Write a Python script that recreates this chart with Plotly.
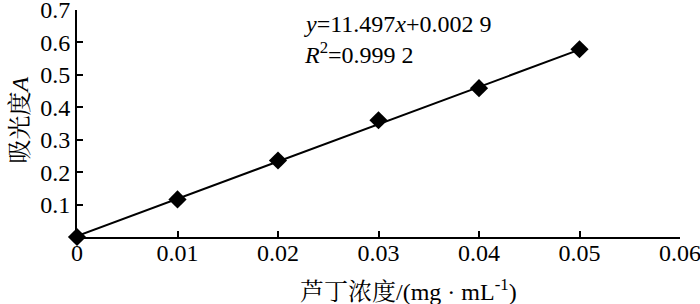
import plotly.graph_objects as go

conc = [0, 0.01, 0.02, 0.03, 0.04, 0.05]
absorb = [0.0, 0.116, 0.236, 0.360, 0.459, 0.579]
slope = 11.497
intercept = 0.0029
fit_x = [0, 0.05]
fit_y = [slope * v + intercept for v in fit_x]

x_ticks = [0, 0.01, 0.02, 0.03, 0.04, 0.05, 0.06]
x_labels = ["0", "0.01", "0.02", "0.03", "0.04", "0.05", "0.06"]
y_ticks = [0.1, 0.2, 0.3, 0.4, 0.5, 0.6, 0.7]
y_labels = ["0.1", "0.2", "0.3", "0.4", "0.5", "0.6", "0.7"]

x_title = "芦丁浓度/(mg · mL<sup>-1</sup>)"
y_title = "吸光度<i>A</i>"
eq_line1 = "<i>y</i>=11.497<i>x</i>+0.002 9"
eq_line2 = "<i>R</i><sup>2</sup>=0.999 2"

latin = "Liberation Serif, serif"
mixed = "Liberation Serif, Noto Serif CJK SC, Noto Sans CJK SC, serif"
FS = 24

fig = go.Figure()
fig.add_trace(go.Scatter(x=fit_x, y=fit_y, mode="lines",
                         line=dict(color="black", width=2), showlegend=False))
fig.add_trace(go.Scatter(x=conc, y=absorb, mode="markers",
                         marker=dict(symbol="diamond", size=14, color="black"),
                         showlegend=False, cliponaxis=False))

fig.add_annotation(x=0.375, y=0.938, xref="paper", yref="paper", xanchor="left", yanchor="middle",
                   text=eq_line1, showarrow=False, borderpad=0,
                   font=dict(family=latin, size=FS, color="black"))
fig.add_annotation(x=0.375, y=0.812, xref="paper", yref="paper", xanchor="left", yanchor="middle",
                   text=eq_line2, showarrow=False, borderpad=0,
                   font=dict(family=latin, size=FS, color="black"))
fig.add_annotation(x=0.549, y=-0.233, xref="paper", yref="paper", xanchor="center", yanchor="middle",
                   text=x_title, showarrow=False,
                   font=dict(family=mixed, size=FS, color="black"))
fig.add_annotation(x=-0.094, y=0.515, xref="paper", yref="paper", xanchor="center", yanchor="middle",
                   text=y_title, showarrow=False, textangle=-90,
                   font=dict(family=mixed, size=FS, color="black"))

fig.update_layout(
    width=700, height=304,
    margin=dict(l=77, r=20, t=10, b=67, autoexpand=False),
    paper_bgcolor="white", plot_bgcolor="white",
    font=dict(family=mixed, size=FS, color="black"),
    xaxis=dict(range=[0, 0.06], tickvals=x_ticks, ticktext=x_labels,
               showline=True, linecolor="black", linewidth=2,
               ticks="inside", ticklen=6, tickwidth=2, tickcolor="black",
               showgrid=False, zeroline=False, automargin=False,
               ticklabeloverflow="allow", ticklabelstandoff=-7,
               tickfont=dict(family=latin, size=FS)),
    yaxis=dict(range=[0, 0.7001], tickvals=y_ticks, ticktext=y_labels,
               showline=True, linecolor="black", linewidth=2,
               ticks="inside", ticklen=6, tickwidth=2, tickcolor="black",
               showgrid=False, zeroline=False, automargin=False,
               ticklabeloverflow="allow",
               tickfont=dict(family=latin, size=FS)),
)

fig.write_html("out.html", config={"displayModeBar": False},
               post_script="document.body.style.margin='0';")
